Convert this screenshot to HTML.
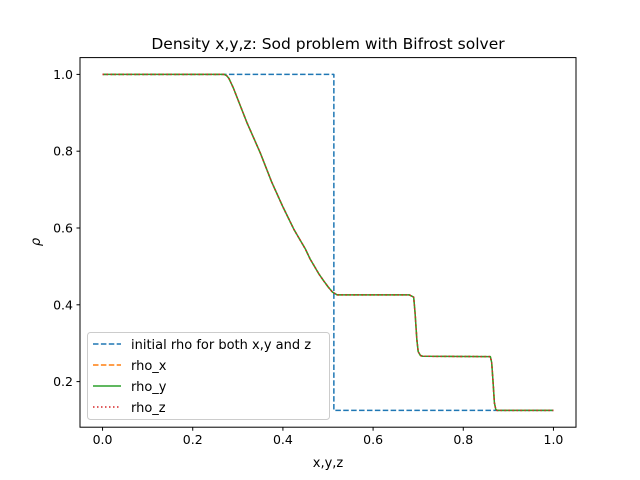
<!DOCTYPE html>
<html><head><meta charset="utf-8"><style>
body{margin:0;background:#fff}
svg{display:block;font-family:"DejaVu Sans","Liberation Sans",sans-serif}
</style></head><body>
<svg id="chart" width="640" height="480">
<rect width="640" height="480" fill="#fff"/>
<text x="328" y="49" text-anchor="middle" font-size="15.5">Density x,y,z: Sod problem with Bifrost solver</text>
<g id="plot"></g>
<rect x="80" y="57.6" width="496" height="369.6" fill="none" stroke="#000" stroke-width="1"/>
<text x="328" y="467" text-anchor="middle" font-size="13">x,y,z</text>
<text x="40" y="242" text-anchor="middle" font-size="13" font-style="italic" transform="rotate(-90 40 242)">ρ</text>
<g>
<rect x="87.5" y="332.5" width="242" height="87" rx="3" fill="#fff" fill-opacity="0.8" stroke="#ccc"/>
<line x1="93" x2="121" y1="344" y2="344" stroke="#1f77b4" stroke-width="1.5" stroke-dasharray="5.5,2.4"/>
<text x="131" y="349" font-size="13">initial rho for both x,y and z</text>
<line x1="93" x2="121" y1="365" y2="365" stroke="#ff7f0e" stroke-width="1.5" stroke-dasharray="5.5,2.4"/>
<text x="131" y="370" font-size="13">rho_x</text>
<line x1="93" x2="121" y1="386" y2="386" stroke="#2ca02c" stroke-width="1.5"/>
<text x="131" y="391" font-size="13">rho_y</text>
<line x1="93" x2="121" y1="407" y2="407" stroke="#d62728" stroke-width="1.5" stroke-dasharray="1.5,2.5"/>
<text x="131" y="412" font-size="13">rho_z</text>
</g>
</svg>
<script>
const xTicks=[0,0.2,0.4,0.6,0.8,1.0];
const yTicks=[0.2,0.4,0.6,0.8,1.0];
const initX=[0,0.513,0.513,1.0];
const initRho=[1.0,1.0,0.125,0.125];
const solX=[0,0.27,0.275,0.28,0.29,0.30,0.32,0.35,0.375,0.40,0.425,0.45,0.46,0.48,0.49,0.50,0.51,0.52,0.68,0.69,0.693,0.697,0.70,0.705,0.71,0.86,0.863,0.866,0.869,0.872,0.875,1.0];
const solRho=[1.0,1.0,0.997,0.99,0.965,0.935,0.875,0.795,0.72,0.655,0.595,0.545,0.52,0.48,0.463,0.447,0.433,0.426,0.426,0.42,0.38,0.31,0.278,0.268,0.266,0.265,0.25,0.2,0.145,0.128,0.125,0.125];
const X0=80,X1=576,Y0=427.2,Y1=57.6,xmin=-0.05,xmax=1.05,ymin=0.08125,ymax=1.04375;
const sx=v=>X0+(v-xmin)/(xmax-xmin)*(X1-X0);
const sy=v=>Y0-(v-ymin)/(ymax-ymin)*(Y0-Y1);
const NS='http://www.w3.org/2000/svg';
const g=document.getElementById('plot');
function mk(t,a){const e=document.createElementNS(NS,t);for(const k in a)e.setAttribute(k,a[k]);g.appendChild(e);return e;}
xTicks.forEach(v=>{
 const l=mk('line',{x1:sx(v),x2:sx(v),y1:Y0,y2:Y0+3.5,stroke:'#000'});
 
 
 const t=mk('text',{x:sx(v),y:Y0+17,'text-anchor':'middle','font-size':'12.5'});t.textContent=v.toFixed(1);
 
 
});
yTicks.forEach(v=>{
 const l=mk('line',{x1:X0-3.5,x2:X0,y1:sy(v),y2:sy(v),stroke:'#000'});
 
 
 const t=mk('text',{x:X0-7,y:sy(v)+4.5,'text-anchor':'end','font-size':'12.5'});t.textContent=v.toFixed(1);
 
 
});
function line(xs,ys,color,dash,name){
 const d=xs.map((x,i)=>(i?'L':'M')+sx(x).toFixed(2)+','+sy(ys[i]).toFixed(2)).join('');
 const p=mk('path',{d:d,fill:'none',stroke:color,'stroke-width':1.5,'stroke-linejoin':'round'});
 if(dash)p.setAttribute('stroke-dasharray',dash);
 
 
}
line(initX,initRho,'#1f77b4','5.5,2.4','initial-rho-line');
line(solX,solRho,'#ff7f0e','5.5,2.4','rho-x-line');
line(solX,solRho,'#2ca02c',null,'rho-y-line');
line(solX,solRho,'#d62728','1.5,2.5','rho-z-line');
</script>
</body></html>
